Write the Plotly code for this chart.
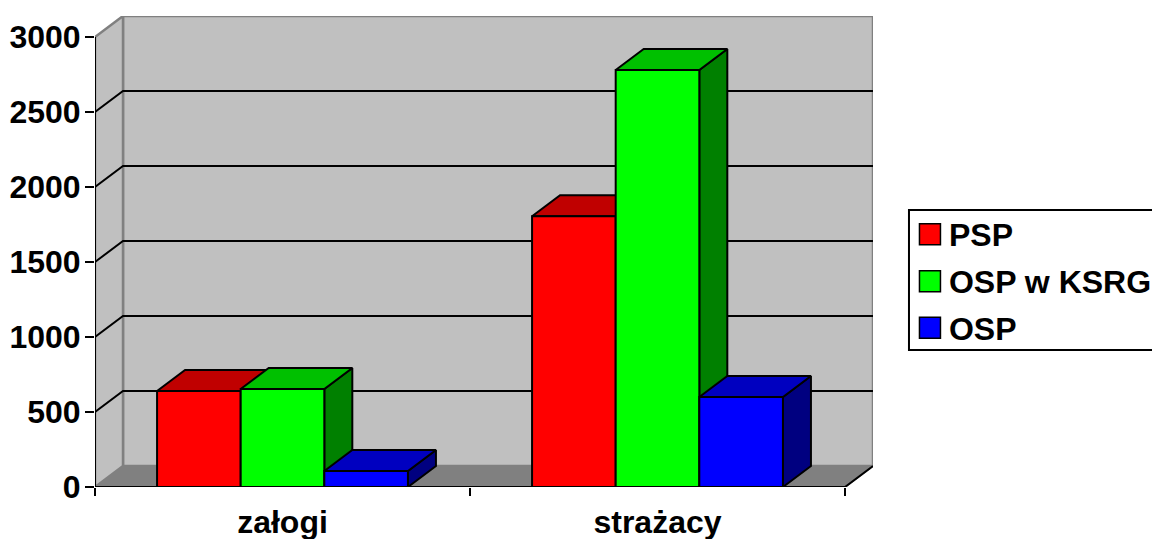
import plotly.graph_objects as go

categories = ["załogi", "strażacy"]
series_names = ["PSP", "OSP w KSRG", "OSP"]
psp = [640, 1805]
osp_ksrg = [653, 2780]
osp = [107, 600]
series_values = [psp, osp_ksrg, osp]
y_ticks = [0, 500, 1000, 1500, 2000, 2500, 3000]

front_colors = ["#ff0000", "#00ff00", "#0000ff"]
top_colors = ["#c00000", "#00c000", "#0000c0"]
side_colors = ["#800000", "#008000", "#000080"]

W, H = 1152, 539
L, R, T, B = 94.5, 873, 16, 487
FONT = "Liberation Sans"
FS = 32
ymax = y_ticks[-1]
ncat = len(categories)
DX = 28 / 375      # oblique depth in category units
DY = 140           # oblique depth in value units
GAP = 0.331        # share of a category left empty
bw = (1 - GAP) / len(series_names)


def px(x):
    return (x - L) / (R - L)


def py(y):
    return (B - y) / (B - T)


def poly(fig, xs, ys, fill=None, line="#000000", width=2, clip=True):
    fig.add_trace(go.Scatter(
        x=xs, y=ys, mode="lines", showlegend=False, hoverinfo="skip",
        fill="toself" if fill else "none", fillcolor=fill,
        line=dict(color=line, width=width), cliponaxis=clip))


fig = go.Figure()

# walls and floor
WALL, EDGE = "#c0c0c0", "#808080"
poly(fig, [0, DX, ncat + DX, ncat, 0], [0, DY, DY, 0, 0], fill=EDGE, line=EDGE, clip=False)
poly(fig, [DX, ncat + DX, ncat + DX, DX, DX],
     [DY, DY, ymax + DY, ymax + DY, DY], fill=WALL, line=EDGE, width=2.5, clip=False)
poly(fig, [0, DX, DX, 0, 0], [0, DY, ymax + DY, ymax, 0], fill=WALL, line=EDGE, width=2.5, clip=False)

# gridlines
for v in y_ticks[1:-1]:
    poly(fig, [0, DX, ncat + DX], [v, v + DY, v + DY])

# axis edges
poly(fig, [0, 0], [0, ymax], clip=False)
poly(fig, [0, ncat, ncat + DX], [0, 0, DY], clip=False)

# bars: side, top, front, left to right so nearer faces overlap
for c in range(ncat):
    start = c + GAP / 2
    for s, vals in enumerate(series_values):
        x0, x1 = start + s * bw, start + (s + 1) * bw
        v = vals[c]
        poly(fig, [x1, x1 + DX, x1 + DX, x1, x1], [0, DY, v + DY, v, 0], fill=side_colors[s], clip=False)
        poly(fig, [x0, x0 + DX, x1 + DX, x1, x0], [v, v + DY, v + DY, v, v], fill=top_colors[s], clip=False)
        poly(fig, [x0, x1, x1, x0, x0], [0, 0, v, v, 0], fill=front_colors[s], clip=False)

# legend entries, one legend per row to keep the reference spacing
rows = [234.3, 281.2, 327.8]
legend_ids = ["legend", "legend2", "legend3"]
legend_layout = {}
for name, col, lid, yc in zip(series_names, front_colors, legend_ids, rows):
    fig.add_trace(go.Scatter(
        x=[None], y=[None], mode="markers", name=name, legend=lid,
        marker=dict(symbol="square", size=16, color=col, line=dict(width=0))))
    legend_layout[lid] = dict(
        x=px(909), y=py(yc - 0.5), xanchor="left", yanchor="middle",
        bgcolor="rgba(0,0,0,0)", borderwidth=0,
        font=dict(family=FONT, size=FS, color="#000000", weight="bold"),
        itemclick=False, itemdoubleclick=False)

# legend frame and swatches
shapes = [dict(type="rect", xref="paper", yref="paper",
               x0=px(909), x1=px(1160), y0=py(350), y1=py(210),
               line=dict(color="#000000", width=2), fillcolor="#ffffff", layer="below")]
for col, yc in zip(front_colors, rows):
    shapes.append(dict(type="rect", xref="paper", yref="paper",
                       x0=px(919.5), x1=px(940.5), y0=py(yc + 10.5), y1=py(yc - 10.5),
                       line=dict(color="#000000", width=1.5), fillcolor=col, layer="below"))

fig.update_layout(
    width=W, height=H,
    margin=dict(l=L, r=W - R, t=T, b=H - B, autoexpand=False),
    paper_bgcolor="#ffffff", plot_bgcolor="rgba(0,0,0,0)",
    showlegend=True, shapes=shapes,
    font=dict(family=FONT, size=FS, color="#000000"),
    xaxis=dict(range=[0, ncat + DX], tickmode="array",
               tickvals=[i + 0.5 for i in range(ncat)], ticktext=categories,
               ticks="", showgrid=False, zeroline=False, showline=False,
               ticklabelstandoff=13,
               tickfont=dict(family=FONT, size=FS, color="#000000", weight="bold"),
               minor=dict(tickmode="array", tickvals=list(range(ncat + 1)),
                          ticks="outside", ticklen=8, tickwidth=2, tickcolor="#000000",
                          showgrid=False)),
    yaxis=dict(range=[0, ymax + DY], tickmode="array", tickvals=y_ticks,
               ticks="outside", ticklen=9, tickwidth=2, tickcolor="#000000",
               showgrid=False, zeroline=False, showline=False,
               ticklabelstandoff=-2,
               tickfont=dict(family=FONT, size=FS, color="#000000", weight="bold")),
)
for lid, cfg in legend_layout.items():
    fig.layout[lid] = cfg

fig.write_html("out.html", post_script="document.body.style.margin='0';",
               config={"displayModeBar": False})
